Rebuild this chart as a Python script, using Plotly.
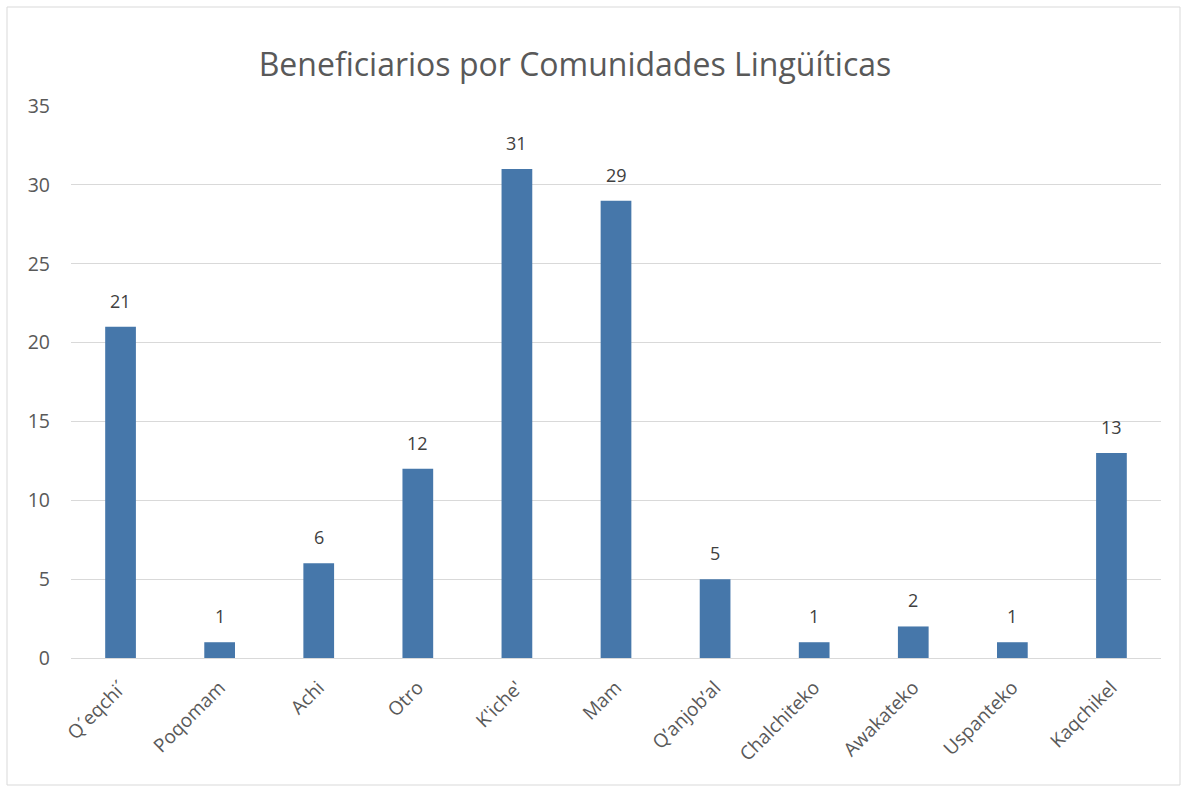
import plotly.graph_objects as go

categories = ["Q´eqchi´", "Poqomam", "Achi", "Otro", "K'iche'", "Mam",
              "Q’anjob’al", "Chalchiteko", "Awakateko", "Uspanteko", "Kaqchikel"]
values = [21, 1, 6, 12, 31, 29, 5, 1, 2, 1, 13]
y_ticks = [0, 5, 10, 15, 20, 25, 30, 35]

L, R, T, B = 71, 21, 106, 129
W, H = 1182, 787
pw, ph = W - L - R, H - T - B

fig = go.Figure(go.Bar(
    x=categories, y=values,
    marker=dict(color="#4677AA", line=dict(width=0)),
    hoverinfo="x+y",
))

annotations = [dict(x=c, y=v, text=str(v), xref="x", yref="y",
                    showarrow=False, yanchor="bottom", yshift=12,
                    font=dict(size=18, color="#404040", family="Open Sans"))
               for c, v in zip(categories, values)]

fig.update_layout(
    width=W, height=H,
    margin=dict(l=L, r=R, t=T, b=B),
    paper_bgcolor="white", plot_bgcolor="white",
    bargap=0.69,
    showlegend=False,
    title=dict(text="Beneficiarios por Comunidades Lingüíticas",
               x=575 / W, xref="container", xanchor="center",
               y=1 - 65 / H, yref="container", yanchor="middle",
               font=dict(size=32, color="#595959", family="Open Sans")),
    font=dict(family="Open Sans", color="#595959"),
    xaxis=dict(tickangle=-45, tickfont=dict(size=19, color="#595959"),
               showline=True, linecolor="#D9D9D9", linewidth=1,
               ticks="", showgrid=False, ticklabelstandoff=10),
    yaxis=dict(range=[0, 35], tickvals=y_ticks, tickfont=dict(size=19.5, color="#595959"),
               showgrid=True, gridcolor="#D9D9D9", gridwidth=1,
               zeroline=False, showline=False, ticks="", ticklabelstandoff=20),
    annotations=annotations,
    shapes=[dict(type="rect", xref="paper", yref="paper",
                 x0=(7 - L) / pw, x1=(1180 - L) / pw,
                 y0=(H - B - 785) / ph, y1=(H - B - 7) / ph,
                 line=dict(color="#D9D9D9", width=1), fillcolor="rgba(0,0,0,0)",
                 layer="below")],
)

fig.write_html("out.html", config={"displayModeBar": False},
               post_script="document.body.style.margin='0';document.body.style.overflow='hidden';")
